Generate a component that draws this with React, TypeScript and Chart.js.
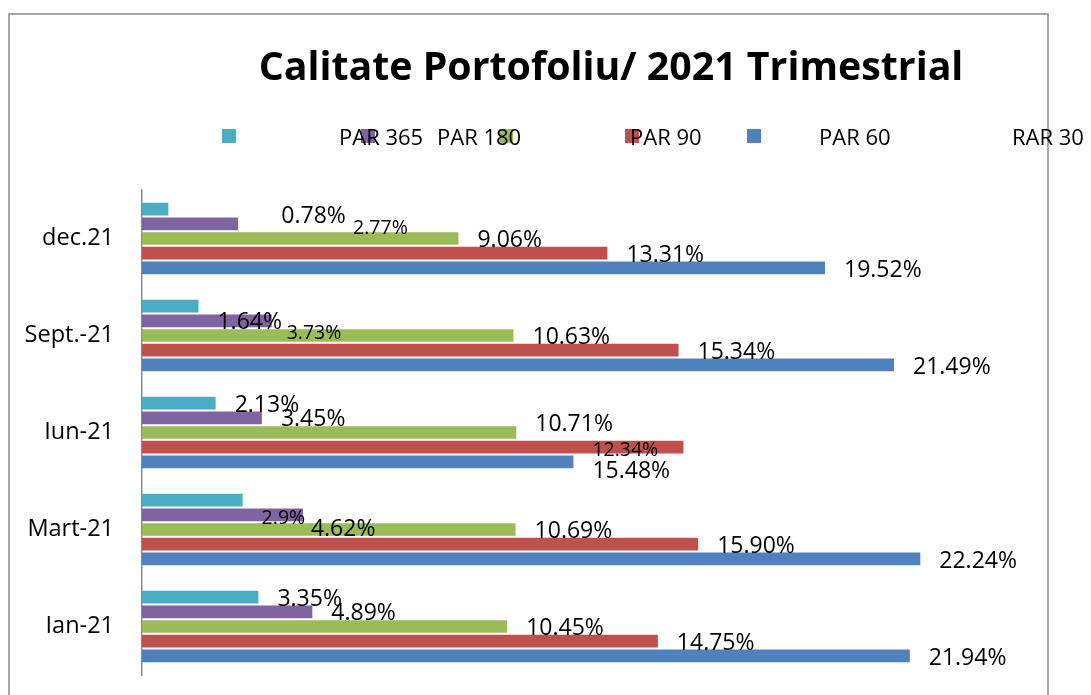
import React, { useEffect, useRef } from "react";
import { Chart, registerables } from "chart.js";

Chart.register(...registerables);

const titleText = "Calitate Portofoliu/ 2021 Trimestrial";
const categories = ["dec.21", "Sept.-21", "Iun-21", "Mart-21", "Ian-21"];
const seriesNames = ["PAR 365", "PAR 180", "PAR 90", "PAR 60", "RAR 30"];
const par365 = [0.78, 1.64, 2.13, 2.9, 3.35];
const par180 = [2.77, 3.73, 3.45, 4.62, 4.89];
const par90 = [9.06, 10.63, 10.71, 10.69, 10.45];
const par60 = [13.31, 15.34, 15.48, 15.9, 14.75];
const rar30 = [19.52, 21.49, 12.34, 22.24, 21.94];
const par365Labels = ["0.78%", "1.64%", "2.13%", "2.9%", "3.35%"];

const colors = ["#4BACC6", "#8064A2", "#9BBB59", "#C0504D", "#4F81BD"];
const FONT = "'Open Sans', 'DejaVu Sans', sans-serif";

const fmt = (v: number) => v.toFixed(2) + "%";

// hand-placed label nudges (style only): key = "series-category"
const labelStyle: Record<string, { dx: number; dy: number; small?: boolean }> = {
  "0-0": { dx: 94, dy: 5 },
  "1-0": { dx: 96, dy: 3, small: true },
  "0-1": { dx: 0, dy: 14 },
  "1-1": { dx: -4, dy: 11, small: true },
  "2-2": { dx: 0, dy: -10 },
  "3-2": { dx: -110, dy: 22 },
  "4-2": { dx: 0, dy: -14, small: true },
  "0-3": { dx: 0, dy: 16, small: true },
  "1-3": { dx: -11, dy: 13 },
};

const decorPlugin = {
  id: "decor",
  beforeDraw(chart: any) {
    const ctx = chart.ctx;
    ctx.save();
    ctx.fillStyle = "#ffffff";
    ctx.fillRect(0, 0, chart.width, chart.height);
    ctx.strokeStyle = "#8a8a8a";
    ctx.lineWidth = 1.5;
    ctx.strokeRect(9, 14, 1039, 800);
    ctx.restore();
  },
  afterDraw(chart: any) {
    const ctx = chart.ctx;
    ctx.save();
    // title
    ctx.fillStyle = "#000";
    ctx.font = `bold 39.3px ${FONT}`;
    ctx.textAlign = "center";
    ctx.textBaseline = "alphabetic";
    ctx.fillText(titleText, 611, 80);
    // legend
    const markerX = [222, 361, 499, 625, 747];
    const textX = [339, 437, 630, 819, 1012];
    chart.data.datasets.forEach((ds: any, i: number) => {
      ctx.fillStyle = ds.backgroundColor;
      ctx.fillRect(markerX[i], 129, 14, 14);
    });
    ctx.fillStyle = "#000";
    ctx.font = `22px ${FONT}`;
    ctx.textAlign = "left";
    chart.data.datasets.forEach((ds: any, i: number) => {
      ctx.fillText(ds.label, textX[i], 145);
    });
    // data labels
    ctx.textBaseline = "middle";
    chart.data.datasets.forEach((ds: any, di: number) => {
      const meta = chart.getDatasetMeta(di);
      meta.data.forEach((bar: any, j: number) => {
        const st = labelStyle[`${di}-${j}`] || { dx: 0, dy: 0 };
        ctx.font = `${st.small ? 19.5 : 23}px ${FONT}`;
        ctx.fillText(ds.valueLabels[j], bar.x + 18 + st.dx, bar.y + 2 + st.dy);
      });
    });
    ctx.restore();
  },
};

export default function App() {
  const ref = useRef<HTMLCanvasElement | null>(null);
  useEffect(() => {
    if (!ref.current) return;
    const series = [par365, par180, par90, par60, rar30];
    const chart = new Chart(ref.current, {
      type: "bar",
      data: {
        labels: categories,
        datasets: series.map((vals, i) => ({
          label: seriesNames[i],
          data: vals,
          backgroundColor: colors[i],
          borderColor: "rgba(255,255,255,0.55)",
          borderWidth: 1,
          categoryPercentage: 0.76,
          barPercentage: 1,
          valueLabels: i === 0 ? par365Labels : vals.map(fmt),
        })) as any,
      },
      options: {
        indexAxis: "y",
        responsive: false,
        animation: false,
        layout: { padding: { top: 190, bottom: 20, right: 73, left: 0 } },
        plugins: {
          legend: { display: false },
          title: { display: false },
          tooltip: { enabled: false },
        },
        scales: {
          x: { display: false, min: 0, max: 25 },
          y: {
            afterFit: (s: any) => {
              s.width = 142;
              s.paddingTop = 0;
              s.paddingBottom = 0;
            },
            grid: { display: false, drawTicks: false },
            border: { display: true, color: "#8a8a8a", width: 1.5 },
            ticks: {
              padding: 28,
              color: "#000",
              font: { family: FONT, size: 23.5 },
            },
          },
        },
      },
      plugins: [decorPlugin],
    });
    return () => chart.destroy();
  }, []);
  return (
    <div style={{ position: "fixed", left: 0, top: 0, width: 1091, height: 695, background: "#fff" }}>
      <canvas ref={ref} width={1091} height={695} style={{ display: "block" }} />
    </div>
  );
}
